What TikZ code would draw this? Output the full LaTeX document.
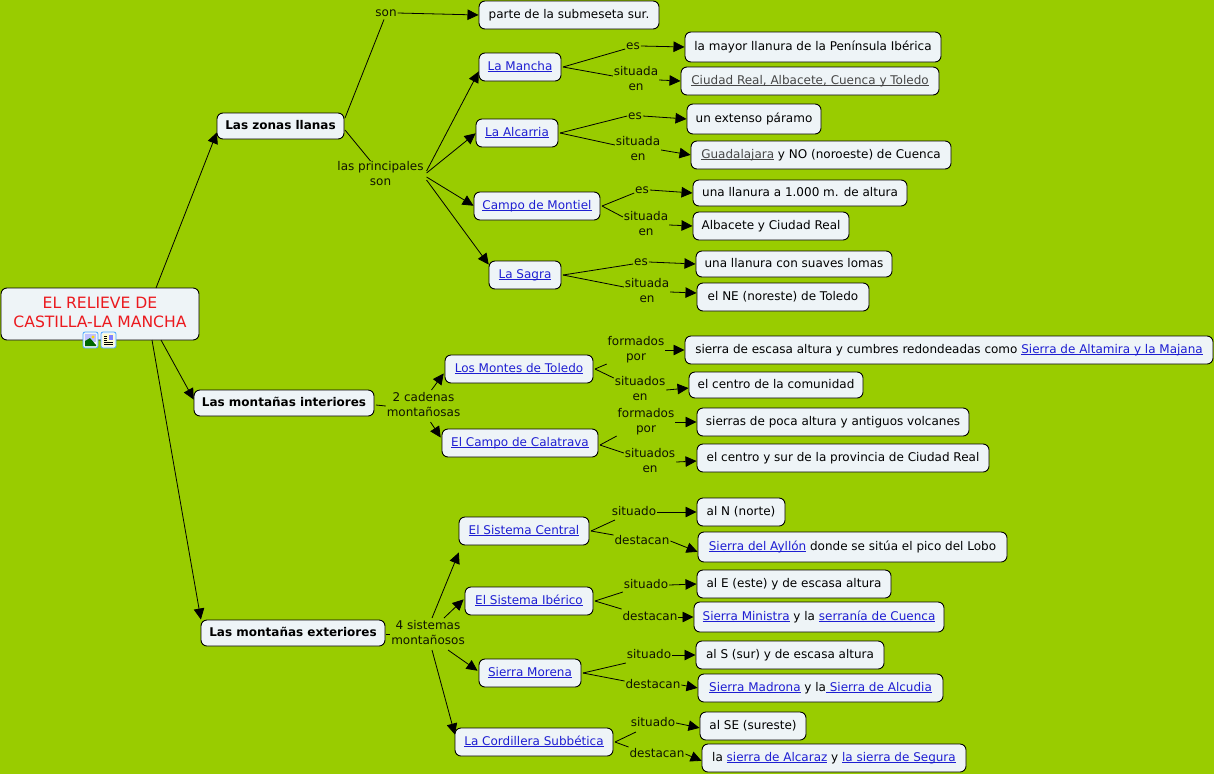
\documentclass[tikz,border=0pt]{standalone}
\usepackage{fontspec}
\setmainfont{DejaVu Sans}
\usetikzlibrary{arrows.meta}
\definecolor{bgc}{RGB}{153,204,0}
\definecolor{boxc}{RGB}{238,244,247}
\definecolor{linkc}{RGB}{30,30,210}
\definecolor{greyc}{RGB}{70,70,70}
\definecolor{redc}{RGB}{235,25,30}
\newsavebox\lnkbox
\newcommand\lnkc[2]{{\color{#1}\sbox\lnkbox{#2}\rlap{\rule[-2pt]{\wd\lnkbox}{0.7pt}}\usebox\lnkbox}}
\newcommand\lnk[1]{\lnkc{linkc}{#1}}
\newcommand\tw[2]{\strut #1\\\strut #2}
\tikzset{
  basetxt/.style={font=\fontsize{12}{15}\selectfont},
  box/.style={basetxt,draw=black,line width=0.9pt,fill=boxc,rounded corners=6pt,inner sep=0pt,outer sep=0pt,align=center},
  wh/.style 2 args={minimum width=#1 pt,minimum height=#2 pt},
  lbl/.style={basetxt,inner sep=1pt,outer sep=0pt,align=center,text=black!90!bgc},
  ln/.style={draw=black,line width=0.8pt},
  ar/.style={ln,-{Triangle[length=11pt,width=10.5pt]},shorten >=0.5pt},
  ico/.style={draw=blue!50!cyan!70!white,line width=0.8pt,rounded corners=2pt,fill=boxc},
}
\begin{document}
\begin{tikzpicture}[x=1pt,y=-1pt]
\useasboundingbox[fill=bgc] (0,0) rectangle (1214,774);
% concept boxes
\node[box,wh={198}{52},font=\fontsize{15.6}{19}\selectfont,text=redc] (root) at (100,314) {\strut EL RELIEVE DE\\\strut CASTILLA-LA MANCHA};
\node[box,wh={127}{26},font=\fontsize{12}{15}\selectfont\bfseries] (zonas) at (280.5,126) {\strut Las zonas llanas};
\node[box,wh={180}{26},font=\fontsize{12}{15}\selectfont\bfseries] (interiores) at (284,403) {\strut Las montañas interiores};
\node[box,wh={184}{26},font=\fontsize{12}{15}\selectfont\bfseries] (exteriores) at (293,633) {\strut Las montañas exteriores};
\node[box,wh={180}{28}] (parte) at (569,15) {\strut parte de la submeseta sur.};
\node[box,wh={82}{28}] (mancha) at (520,67) {\strut\lnk{La Mancha}};
\node[box,wh={256}{30}] (mayor) at (813,47) {\strut la mayor llanura de la Península Ibérica};
\node[box,wh={258}{28}] (ciudad) at (810,81) {\strut\lnkc{greyc}{Ciudad Real, Albacete, Cuenca y Toledo}};
\node[box,wh={82}{28}] (alcarria) at (517,133) {\strut\lnk{La Alcarria}};
\node[box,wh={134}{30}] (extenso) at (754,119) {\strut un extenso páramo};
\node[box,wh={260}{28}] (guada) at (821,155) {\strut\lnkc{greyc}{Guadalajara} y NO (noroeste) de Cuenca};
\node[box,wh={126}{28}] (montiel) at (537,206) {\strut\lnk{Campo de Montiel}};
\node[box,wh={214}{26}] (altura) at (800,193) {\strut una llanura a 1.000 m. de altura};
\node[box,wh={156}{28}] (albacete) at (771,226) {\strut Albacete y Ciudad Real};
\node[box,wh={72}{28}] (sagra) at (525,275) {\strut\lnk{La Sagra}};
\node[box,wh={196}{26}] (lomas) at (794,264) {\strut una llanura con suaves lomas};
\node[box,wh={172}{28}] (noreste) at (783,297) {\strut el NE (noreste) de Toledo};
\node[box,wh={148}{28}] (montes) at (519,369) {\strut\lnk{Los Montes de Toledo}};
\node[box,wh={528}{28}] (escasa) at (949,350) {\strut sierra de escasa altura y cumbres redondeadas como \lnk{Sierra de Altamira y la Majana}};
\node[box,wh={174}{26}] (centro) at (776,385) {\strut el centro de la comunidad};
\node[box,wh={156}{28}] (calatrava) at (520,443) {\strut\lnk{El Campo de Calatrava}};
\node[box,wh={272}{28}] (volcanes) at (833,422) {\strut sierras de poca altura y antiguos volcanes};
\node[box,wh={292}{28}] (centrosur) at (843,458) {\strut el centro y sur de la provincia de Ciudad Real};
\node[box,wh={130}{28}] (central) at (524,531) {\strut\lnk{El Sistema Central}};
\node[box,wh={88}{28}] (norte) at (741,512) {\strut al N (norte)};
\node[box,wh={309}{30}] (ayllon) at (852.5,547) {\strut\lnk{Sierra del Ayllón} donde se sitúa el pico del Lobo};
\node[box,wh={128}{28}] (iberico) at (529,601) {\strut\lnk{El Sistema Ibérico}};
\node[box,wh={194}{28}] (este) at (794,584) {\strut al E (este) y de escasa altura};
\node[box,wh={250}{30}] (ministra) at (819,617) {\strut\lnk{Sierra Ministra} y la \lnk{serranía de Cuenca}};
\node[box,wh={102}{28}] (morena) at (530,673) {\strut\lnk{Sierra Morena}};
\node[box,wh={188}{28}] (sur) at (790,655) {\strut al S (sur) y de escasa altura};
\node[box,wh={245}{28}] (madrona) at (820.5,688) {\strut\lnk{Sierra Madrona} y la\lnk{ Sierra de Alcudia}};
\node[box,wh={158}{28}] (subbetica) at (534,742) {\strut\lnk{La Cordillera Subbética}};
\node[box,wh={106}{28}] (sureste) at (753,726) {\strut al SE (sureste)};
\node[box,wh={264}{28}] (alcaraz) at (834,758) {\strut la \lnk{sierra de Alcaraz} y \lnk{la sierra de Segura}};
% linking phrases
\node[lbl] (son) at (386,13) {\strut son};
\node[lbl] (princ) at (380.5,175) {\tw{las principales}{son}};
\node[lbl] (es1) at (633,46) {\strut es};
\node[lbl] (sit1) at (636,80) {\tw{situada}{en}};
\node[lbl] (es2) at (635,116) {\strut es};
\node[lbl] (sit2) at (638,150) {\tw{situada}{en}};
\node[lbl] (es3) at (642,190) {\strut es};
\node[lbl] (sit3) at (646,225) {\tw{situada}{en}};
\node[lbl] (es4) at (641,262) {\strut es};
\node[lbl] (sit4) at (647,292) {\tw{situada}{en}};
\node[lbl] (cad) at (423.5,406) {\tw{2 cadenas}{montañosas}};
\node[lbl] (form1) at (636,350) {\tw{formados}{por}};
\node[lbl] (sitd1) at (640,390) {\tw{situados}{en}};
\node[lbl] (form2) at (646,422) {\tw{formados}{por}};
\node[lbl] (sitd2) at (650,462) {\tw{situados}{en}};
\node[lbl] (sis) at (428,634) {\tw{4 sistemas}{montañosos}};
\node[lbl] (sto1) at (634,512) {\strut situado};
\node[lbl] (des1) at (642,541) {\strut destacan};
\node[lbl] (sto2) at (646,585) {\strut situado};
\node[lbl] (des2) at (650,617) {\strut destacan};
\node[lbl] (sto3) at (649,655) {\strut situado};
\node[lbl] (des3) at (653,685) {\strut destacan};
\node[lbl] (sto4) at (653,723) {\strut situado};
\node[lbl] (des4) at (657,754) {\strut destacan};
% top-level connectors
\draw[ar] ([xshift=56pt]root.north) -- ([yshift=-6pt]zonas.west |- zonas.center);
\draw[ar] ([xshift=61pt]root.south) -- ([yshift=3pt]interiores.west);
\draw[ar] ([xshift=52pt]root.south) -- (exteriores.north west);
% zonas
\draw[ln] ([xshift=1pt,yshift=8pt]zonas.east) -- ([xshift=-2pt,yshift=2pt]son.south);
\draw[ln] ([xshift=1pt,yshift=-4pt]zonas.east) -- ([xshift=-10pt,yshift=-2pt]princ.north);
\draw[ar] (son.east) -- (parte.west);
\draw[ar] ([xshift=2pt,yshift=4pt]princ.east) -- ([yshift=-4pt]mancha.west);
\draw[ar] ([xshift=2pt,yshift=2pt]princ.east) -- (alcarria.west);
\draw[ar] ([xshift=2pt,yshift=-2pt]princ.east) -- (montiel.west);
\draw[ar] ([xshift=2pt,yshift=-5pt]princ.east) -- ([yshift=-4pt]sagra.north west);
\draw[ln] ([xshift=2pt]mancha.east) -- ([yshift=-3pt]es1.west);
\draw[ln] ([xshift=2pt]mancha.east) -- ([yshift=4pt]sit1.west);
\draw[ar] (es1.east) -- (mayor.west);
\draw[ar] (sit1.east) -- (ciudad.west);
\draw[ln] ([xshift=2pt]alcarria.east) -- (es2.west);
\draw[ln] ([xshift=2pt]alcarria.east) -- ([yshift=5pt]sit2.west);
\draw[ar] (es2.east) -- (extenso.west);
\draw[ar] (sit2.east) -- (guada.west);
\draw[ln] ([xshift=2pt]montiel.east) -- ([yshift=-3pt]es3.west);
\draw[ln] ([xshift=2pt]montiel.east) -- ([yshift=8pt]sit3.west);
\draw[ar] (es3.east) -- (altura.west);
\draw[ar] (sit3.east) -- (albacete.west);
\draw[ln] ([xshift=2pt]sagra.east) -- ([yshift=-2pt]es4.west);
\draw[ln] ([xshift=2pt]sagra.east) -- ([yshift=5pt]sit4.west);
\draw[ar] (es4.east) -- (lomas.west);
\draw[ar] (sit4.east) -- ([yshift=4pt]noreste.west);
% interiores
\draw[ln] ([xshift=2pt,yshift=-2pt]interiores.east) -- (cad.west);
\draw[ar] ([xshift=8pt]cad.north) -- ([xshift=-1pt,yshift=-4pt]montes.west);
\draw[ar] ([xshift=7pt]cad.south) -- ([xshift=-1pt,yshift=5pt]calatrava.west);
\draw[ln] ([xshift=2pt]montes.east) -- ([yshift=-14pt]form1.west);
\draw[ln] ([xshift=2pt]montes.east) -- ([yshift=12pt]sitd1.west);
\draw[ar] (form1.east) -- (escasa.west);
\draw[ar] (sitd1.east) -- ([yshift=-3pt]centro.west);
\draw[ln] ([xshift=2pt,yshift=-2pt]calatrava.east) -- ([yshift=-14pt]form2.west);
\draw[ln] ([xshift=2pt,yshift=-2pt]calatrava.east) -- ([yshift=9pt]sitd2.west);
\draw[ar] (form2.east) -- (volcanes.west);
\draw[ar] (sitd2.east) -- ([yshift=-3pt]centrosur.west);
% exteriores
\draw[ln] ([xshift=1pt,yshift=-1pt]exteriores.east) -- (sis.west);
\draw[ar] ([xshift=4pt]sis.north) -- ([yshift=-7pt]central.south west);
\draw[ar] ([xshift=16pt]sis.north) -- ([xshift=-1pt,yshift=2pt]iberico.west);
\draw[ar] ([xshift=20pt]sis.south) -- ([xshift=-1pt,yshift=2pt]morena.west);
\draw[ar] ([xshift=4pt]sis.south) -- ([xshift=0pt,yshift=-7pt]subbetica.north west);
\draw[ln] ([xshift=2pt]central.east) -- ([xshift=4pt,yshift=-8pt]sto1.west);
\draw[ln] ([xshift=2pt]central.east) -- ([yshift=6pt]des1.west);
\draw[ar] (sto1.east) -- (norte.west);
\draw[ar] (des1.east) -- ([yshift=-5pt]ayllon.west);
\draw[ln] ([xshift=2pt]iberico.east) -- ([yshift=-7pt]sto2.west);
\draw[ln] ([xshift=2pt]iberico.east) -- ([yshift=8pt]des2.west);
\draw[ar] (sto2.east) -- (este.west);
\draw[ar] (des2.east) -- (ministra.west);
\draw[ln] ([xshift=2pt]morena.east) -- ([yshift=-8pt]sto3.west);
\draw[ln] ([xshift=2pt]morena.east) -- ([yshift=4pt]des3.west);
\draw[ar] (sto3.east) -- (sur.west);
\draw[ar] (des3.east) -- (madrona.west);
\draw[ln] ([xshift=2pt]subbetica.east) -- ([xshift=6pt,yshift=-9pt]sto4.west);
\draw[ln] ([xshift=2pt]subbetica.east) -- ([yshift=7pt]des4.west);
\draw[ar] (sto4.east) -- ([yshift=-2pt]sureste.west);
\draw[ar] (des4.east) -- ([yshift=-3pt]alcaraz.west);
% resource icons on the root concept
\draw[ico] (83,332) rectangle (98,348);
\fill[white] (85,334) rectangle (96,346);
\fill[blue!25!white] (85,334) rectangle (96,342);
\fill[yellow!80!orange] (93,337) circle (1.6);
\fill[green!40!black] (85,346) -- (85,341) -- (90,338) -- (96,345) -- (96,346) -- cycle;
\draw[ico] (101,332) rectangle (116,348);
\fill[yellow!20!white] (103,334) rectangle (114,346);
\draw[black,line width=0.6pt] (104,336) -- (107,336) (104,338) -- (107,338) (104,340) -- (107,340) (104,342) -- (113,342) (104,344) -- (113,344);
\fill[blue!50!white] (109,335) rectangle (113,340);
\end{tikzpicture}
\end{document}
